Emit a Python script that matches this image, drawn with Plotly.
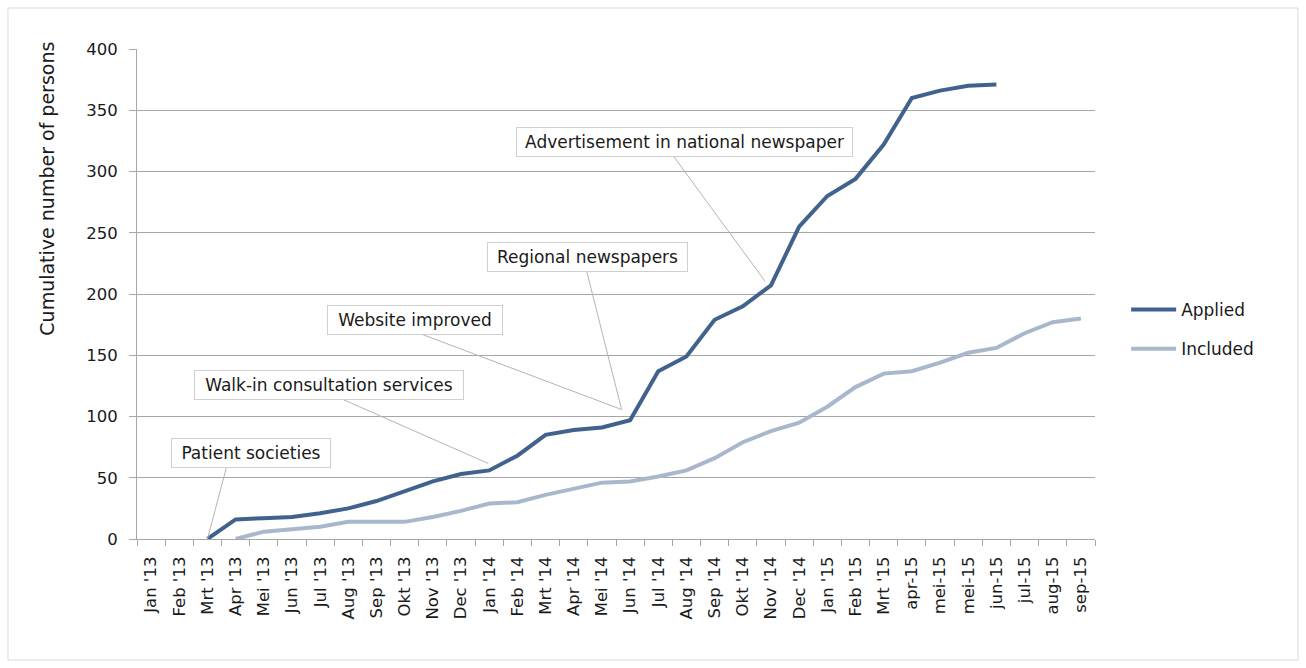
import plotly.graph_objects as go

# Monthly categories (two "mei-15" entries, as recorded)
months = ["Jan '13", "Feb '13", "Mrt '13", "Apr '13", "Mei '13", "Jun '13", "Jul '13",
          "Aug '13", "Sep '13", "Okt '13", "Nov '13", "Dec '13", "Jan '14", "Feb '14",
          "Mrt '14", "Apr '14", "Mei '14", "Jun '14", "Jul '14", "Aug '14", "Sep '14",
          "Okt '14", "Nov '14", "Dec '14", "Jan '15", "Feb '15", "Mrt '15", "apr-15",
          "mei-15", "mei-15", "jun-15", "jul-15", "aug-15", "sep-15"]

applied = [None, None, 0, 16, 17, 18, 21, 25, 31, 39, 47, 53, 56, 68, 85, 89, 91, 97,
           137, 149, 179, 190, 207, 255, 280, 294, 322, 360, 366, 370, 371, None, None, None]

included = [None, None, None, 0, 6, 8, 10, 14, 14, 14, 18, 23, 29, 30, 36, 41, 46, 47,
            51, 56, 66, 79, 88, 95, 108, 124, 135, 137, 144, 152, 156, 168, 177, 180]

y_ticks = [0, 50, 100, 150, 200, 250, 300, 350, 400]

# Recruitment events: label, box centre, box width, leader start, leader end
events = [
    ("Patient societies", (3.55, 70.3), 150, (2.685, 59.4), (2, applied[2])),
    ("Walk-in consultation services", (6.32, 125.8), 260, (6.82, 113.8), (11.97, 61.6)),
    ("Website improved", (9.36, 179.1), 166, (9.54, 167.7), (16.7, 105.7)),
    ("Regional newspapers", (15.49, 230.1), 191, (15.46, 218.5), (16.7, 105.7)),
    ("Advertisement in national newspaper", (18.92, 324.1), 327, (18.56, 311.9), (21.79, 210.4)),
]

FONT = "DejaVu Sans"
GRID = "#a6a6a6"
pos = list(range(len(months)))

fig = go.Figure()
fig.add_trace(go.Scatter(x=pos, y=applied, mode="lines", name="Applied",
                         line=dict(color="#41628d", width=4), legendgroup="a"))
fig.add_trace(go.Scatter(x=pos, y=included, mode="lines", name="Included",
                         line=dict(color="#a9b7cd", width=4), legendgroup="b"))

shapes = [dict(type="rect", xref="paper", yref="paper", x0=-0.1347, x1=1.2119,
               y0=-0.247, y1=1.0837, line=dict(color="#d9d9d9", width=1), layer="below")]
annotations = []
for label, (cx, cy), w, (sx, sy), (ex, ey) in events:
    shapes.append(dict(type="line", xref="x", yref="y", x0=sx, y0=sy, x1=ex, y1=ey,
                       line=dict(color="#b4b4b4", width=1)))
    annotations.append(dict(x=cx, y=cy, xref="x", yref="y", text=label, showarrow=False,
                            width=w, bgcolor="white", bordercolor="#cfcfcf", borderwidth=1,
                            borderpad=4, font=dict(family=FONT, size=17, color="#1a1a1a")))

# y-axis title, placed in the upper part of the axis
annotations.append(dict(x=-0.0934, y=0.714, xref="paper", yref="paper",
                        xanchor="center", yanchor="middle",
                        text="Cumulative number of persons", textangle=-90, showarrow=False,
                        font=dict(family=FONT, size=19, color="#1a1a1a")))

fig.update_layout(
    width=1306, height=668,
    margin=dict(l=137, r=211, t=49, b=129),
    paper_bgcolor="white", plot_bgcolor="white",
    font=dict(family=FONT, size=16.5, color="#1a1a1a"),
    shapes=shapes, annotations=annotations,
    showlegend=True,
    legend=dict(x=1.0325, y=0.4276, xanchor="left", yanchor="middle",
                font=dict(family=FONT, size=17, color="#1a1a1a"),
                tracegroupgap=14, itemwidth=45, bgcolor="rgba(0,0,0,0)"),
    xaxis=dict(range=[-0.5, len(months) - 0.5], tickmode="array", tickvals=pos,
               ticktext=months, tickangle=-90, ticks="", showgrid=False, zeroline=False,
               showline=True, linecolor=GRID, linewidth=1, ticklabelstandoff=10,
               minor=dict(tickmode="array", tickvals=[p - 0.5 for p in pos] + [len(months) - 0.5],
                          ticks="outside", ticklen=6, tickcolor=GRID, showgrid=False),
               fixedrange=True),
    yaxis=dict(range=[0, 400], tickmode="array", tickvals=y_ticks, ticks="outside",
               ticklen=7, tickcolor=GRID, showgrid=True, gridcolor=GRID, gridwidth=1,
               zeroline=False, showline=True, linecolor=GRID, linewidth=1,
               ticklabelstandoff=8, fixedrange=True),
)

fig.write_html("out.html")
